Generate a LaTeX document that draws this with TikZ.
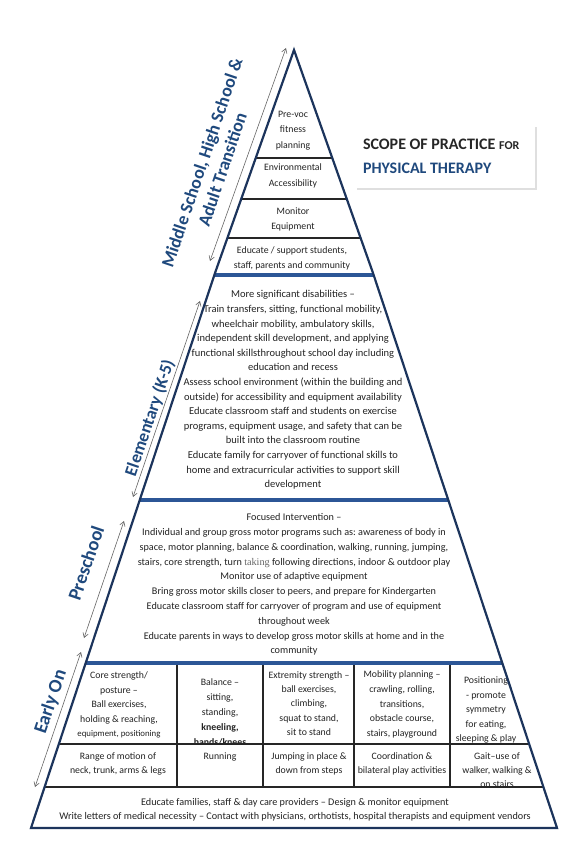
\documentclass[tikz,border=0pt]{standalone}
\usepackage{fontspec}
\setmainfont{Carlito}
\newfontfamily\serifalt{Liberation Serif}
\usetikzlibrary{arrows.meta,shadows}
\definecolor{navy}{RGB}{28,52,92}
\definecolor{barblue}{RGB}{44,86,150}
\definecolor{labblue}{RGB}{31,73,125}
\definecolor{ink}{RGB}{35,35,35}
\frenchspacing
\begin{document}
\begin{tikzpicture}[x=1pt,y=-1pt,
  body/.style={font=\fontsize{10.2}{14.8}\selectfont, text=ink, align=center, inner sep=0pt},
  cell/.style={font=\fontsize{9.8}{14.6}\selectfont, text=ink, align=center, inner sep=0pt},
  lab/.style={font=\fontsize{19}{21.5}\selectfont\bfseries, text=labblue, rotate=71.3, align=center, inner sep=0pt},
  outline/.style={draw=navy, line width=2.2pt, line join=miter},
  bar/.style={draw=barblue, line width=4.5pt},
  rule/.style={draw=black!85, line width=1.3pt},
  dbl/.style={{Straight Barb[length=4.5pt,width=5.5pt]}-{Straight Barb[length=4.5pt,width=5.5pt]}, draw=black!60, line width=0.6pt}]
\useasboundingbox (0,0) rectangle (579,850);
\fill[white] (0,0) rectangle (579,850);

% key points of the pyramid outline
\coordinate (A) at (294,50);
\coordinate (L1) at (215,273); \coordinate (R1) at (373,273);
\coordinate (L3) at (85.7,663); \coordinate (R3) at (502.8,663);
\coordinate (L4) at (43.6,790); \coordinate (R4) at (544.9,790);
\coordinate (BL) at (31,828);  \coordinate (BR) at (557,828);

% ---------- texts: top section ----------
\node[body,font=\fontsize{9.8}{15.5}\selectfont] (t1) at (293,130.5) {Pre-voc\\fitness\\planning};
\node[body,font=\fontsize{9.8}{15.5}\selectfont] (t2) at (293,176) {Environmental\\Accessibility};
\node[body,font=\fontsize{9.8}{15.5}\selectfont] (t3) at (293,219.5) {Monitor\\Equipment};
\node[body,font=\fontsize{9.8}{15}\selectfont] (t4) at (292,258.5) {Educate / support students,\\staff, parents and community};

% ---------- elementary ----------
\node[body,font=\fontsize{10.5}{14.6}\selectfont] (el) at (293,390) {More significant disabilities –\\
Train transfers, sitting, functional mobility,\\
wheelchair mobility, ambulatory skills,\\
independent skill development, and applying\\
functional skillsthroughout school day including\\
education and recess\\
Assess school environment (within the building and\\
outside) for accessibility and equipment availability\\
Educate classroom staff and students on exercise\\
programs, equipment usage, and safety that can be\\
built into the classroom routine\\
Educate family for carryover of functional skills to\\
home and extracurricular activities to support skill\\
development};

% ---------- preschool ----------
\node[body] (pr) at (294,584.5) {Focused Intervention –\\
Individual and group gross motor programs such as: awareness of body in\\
space, motor planning, balance \& coordination, walking, running, jumping,\\
stairs, core strength, turn {\serifalt\color{black!60}taking} following directions, indoor \& outdoor play\\
Monitor use of adaptive equipment\\
Bring gross motor skills closer to peers, and prepare for Kindergarten\\
Educate classroom staff for carryover of program and use of equipment\\
throughout week\\
Educate parents in ways to develop gross motor skills at home and in the\\
community};

% ---------- early on grid ----------
\begin{scope}
\clip (40,666) -- (570,666) -- (570,742) -- (40,742) -- cycle;
\clip (L3) -- (R3) -- (R4) -- (L4) -- cycle;
\node[cell] (c11) at (119,705) {Core strength/\\posture –\\Ball exercises,\\holding \& reaching,\\{\fontsize{8.8}{10}\selectfont equipment, positioning}};
\node[cell,font=\fontsize{9.8}{15}\selectfont] (c12) at (220,712) {Balance –\\sitting,\\standing,\\\textbf{kneeling,}\\\textbf{hands/knees}};
\node[cell,font=\fontsize{9.8}{14.2}\selectfont] (c13) at (309,703.5) {Extremity strength –\\ball exercises,\\climbing,\\squat to stand,\\sit to stand};
\node[cell] (c14) at (402,704.5) {Mobility planning –\\crawling, rolling,\\transitions,\\obstacle course,\\stairs, playground};
\node[cell,font=\fontsize{9.8}{14.5}\selectfont] (c15) at (486,710) {Positioning\\- promote\\symmetry\\for eating,\\sleeping \& play};
\end{scope}
\begin{scope}
\clip (40,746) -- (570,746) -- (570,786) -- (40,786) -- cycle;
\clip (L3) -- (R3) -- (R4) -- (L4) -- cycle;
\node[cell,font=\fontsize{9.8}{14.5}\selectfont] (c21) at (118,764) {Range of motion of\\neck, trunk, arms \& legs};
\node[cell] (c22) at (220,757) {Running};
\node[cell,font=\fontsize{9.8}{14.5}\selectfont] (c23) at (309,764) {Jumping in place \&\\down from steps};
\node[cell,font=\fontsize{9.8}{14.5}\selectfont] (c24) at (402,764) {Coordination \&\\bilateral play activities};
\node[cell,font=\fontsize{9.8}{14.2}\selectfont] (c25) at (497,770) {Gait–use of\\walker, walking \&\\on stairs};
\end{scope}

% ---------- bottom ----------
\node[body,font=\fontsize{10.2}{14}\selectfont] (bt) at (295,810) {Educate families, staff \& day care providers – Design \& monitor equipment\\
Write letters of medical necessity – Contact with physicians, orthotists, hospital therapists and equipment vendors};

% ---------- rules ----------
\draw[rule] (255.8,158) -- (332.2,158);
\draw[rule] (241.2,199) -- (346.8,199);
\draw[rule] (227.4,238) -- (360.6,238);
\draw[rule] (58.9,744) -- (529.7,744);
\draw[rule] (44.6,787) -- (543.9,787);
\foreach \cx in {177,263,354,450}{\draw[rule] (\cx,665) -- (\cx,787);}

% thick bars
\draw[bar] (213.7,275) -- (374.3,275);
\draw[bar] (139.7,500) -- (448.8,500);
\draw[bar] (85.7,663) -- (502.8,663);

% outline
\draw[outline] (A) -- (L1) -- (BL) -- (BR) -- (R1) -- cycle;

% ---------- side labels and arrows ----------
\node[lab,font=\fontsize{18}{21.5}\selectfont\bfseries] (lmid) at (212,166) {Middle School, High School \&\\Adult Transition};
\node[lab,font=\fontsize{17.5}{21}\selectfont\bfseries] (lelem) at (150,418) {Elementary (K-5)};
\node[lab] (lpre) at (86,563) {Preschool};
\node[lab] (lear) at (51,702) {Early On};

\coordinate (m1) at (286,48);  \coordinate (m2) at (210,261);
\coordinate (e1) at (200,301); \coordinate (e2) at (133,497);
\coordinate (p1) at (124,521); \coordinate (p2) at (84,638);
\coordinate (o1) at (81,652);  \coordinate (o2) at (35,787);
\draw[dbl] (m1) -- (m2);
\draw[dbl] (e1) -- (e2);
\draw[dbl] (p1) -- (p2);
\draw[dbl] (o1) -- (o2);

% ---------- title ----------
\node[fill=white, minimum width=180pt, minimum height=63pt, inner sep=0pt,
  drop shadow={shadow xshift=2pt, shadow yshift=-2pt, opacity=0.25}] (tbox) at (445,156.5) {};
\node[anchor=west, align=left, inner sep=0pt, font=\fontsize{16}{24}\selectfont\bfseries, text=black!85]
  (ttext) at ([xshift=8pt]tbox.west) {SCOPE OF PRACTICE {\fontsize{12}{14}\selectfont FOR}\\{\color{labblue}PHYSICAL THERAPY}};
\end{tikzpicture}
\end{document}
